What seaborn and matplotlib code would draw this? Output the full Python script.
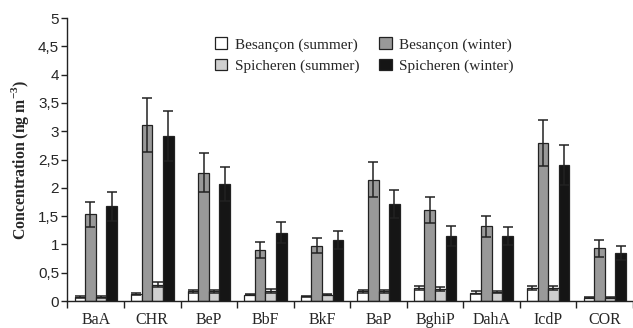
import numpy as np
import pandas as pd
import matplotlib
matplotlib.use("Agg")
import matplotlib.pyplot as plt
import seaborn as sns

categories = ['BaA', 'CHR', 'BeP', 'BbF', 'BkF', 'BaP', 'BghiP', 'DahA', 'IcdP', 'COR']
series_names = ['Besançon (summer)', 'Besançon (winter)', 'Spicheren (summer)', 'Spicheren (winter)']

bes_summer = [0.07, 0.13, 0.17, 0.11, 0.08, 0.17, 0.23, 0.15, 0.23, 0.06]
bes_summer_err = [0.01, 0.02, 0.02, 0.01, 0.01, 0.02, 0.03, 0.02, 0.03, 0.01]
bes_winter = [1.53, 3.11, 2.27, 0.90, 0.98, 2.14, 1.60, 1.32, 2.79, 0.93]
bes_winter_err = [0.22, 0.47, 0.35, 0.14, 0.14, 0.31, 0.23, 0.19, 0.41, 0.15]
spi_summer = [0.07, 0.29, 0.17, 0.18, 0.11, 0.17, 0.21, 0.16, 0.23, 0.06]
spi_summer_err = [0.01, 0.05, 0.02, 0.03, 0.01, 0.02, 0.03, 0.02, 0.03, 0.01]
spi_winter = [1.67, 2.91, 2.06, 1.21, 1.08, 1.72, 1.15, 1.15, 2.40, 0.85]
spi_winter_err = [0.25, 0.44, 0.30, 0.18, 0.16, 0.25, 0.18, 0.16, 0.35, 0.13]

y_ticks = [0, 0.5, 1, 1.5, 2, 2.5, 3, 3.5, 4, 4.5, 5]
y_tick_labels = ['0', '0,5', '1', '1,5', '2', '2,5', '3', '3,5', '4', '4,5', '5']

values = [bes_summer, bes_winter, spi_summer, spi_winter]
errors = [bes_summer_err, bes_winter_err, spi_summer_err, spi_winter_err]
colors = ['#ffffff', '#999999', '#cfcfcf', '#151515']

rows = []
for name, vals in zip(series_names, values):
    for c, v in zip(categories, vals):
        rows.append({'PAH': c, 'Series': name, 'Value': v})
df = pd.DataFrame(rows)

sns.set_style("white")
plt.rcParams['mathtext.fontset'] = 'custom'
plt.rcParams['mathtext.rm'] = 'Liberation Serif'
plt.rcParams['mathtext.bf'] = 'Liberation Serif:bold'

fig = plt.figure(figsize=(6.33, 3.28), dpi=100)
ax = fig.add_axes([0.1066, 0.0823, 0.8934, 0.8628])

sns.barplot(data=df, x='PAH', y='Value', hue='Series', order=categories,
            hue_order=series_names, palette=colors, width=0.75, errorbar=None,
            edgecolor='#222222', linewidth=0.9, ax=ax, legend=True)

for cont, errs in zip(ax.containers, errors):
    xs = [p.get_x() + p.get_width() / 2 for p in cont.patches]
    hs = [p.get_height() for p in cont.patches]
    ax.errorbar(xs, hs, yerr=errs, fmt='none', ecolor='#222222',
                elinewidth=1.1, capsize=3.8, capthick=1.1, zorder=5)

ax.set_ylim(0, 5)
ax.set_xlim(-0.5, 9.38)
ax.set_yticks(y_ticks)
ax.set_yticklabels(y_tick_labels, fontfamily='Liberation Sans', fontsize=11)

ax.set_xticks(np.arange(-0.5, 10, 1))
ax.set_xticklabels([])
ax.set_xticks(np.arange(len(categories)), minor=True)
ax.set_xticklabels(categories, minor=True, fontfamily='Liberation Serif', fontsize=11.5)
ax.tick_params(axis='x', which='major', direction='out', length=5, width=1, color='#222222', bottom=True)
ax.tick_params(axis='x', which='minor', length=0, pad=8, bottom=True)
ax.tick_params(axis='y', direction='out', length=4, width=1, color='#222222', left=True, pad=2)

ax.set_xlabel('')
ax.set_ylabel(r'Concentration (ng m$^{\mathbf{-3}}$)', fontfamily='Liberation Serif',
              fontweight='bold', fontsize=11.4, labelpad=5)

for s in ['top', 'right']:
    ax.spines[s].set_visible(False)
for s in ['left', 'bottom']:
    ax.spines[s].set_color('#222222')
    ax.spines[s].set_linewidth(1)

handles, labels = ax.get_legend_handles_labels()
order = [0, 2, 1, 3]
ax.legend([handles[i] for i in order], [labels[i] for i in order], ncol=2, frameon=False,
          loc='upper center', bbox_to_anchor=(0.525, 0.98),
          prop={'family': 'Liberation Serif', 'size': 11},
          handlelength=0.8, handleheight=0.8, handletextpad=0.5, columnspacing=1.3,
          labelspacing=0.45)

fig.savefig('out.png', dpi=100)
